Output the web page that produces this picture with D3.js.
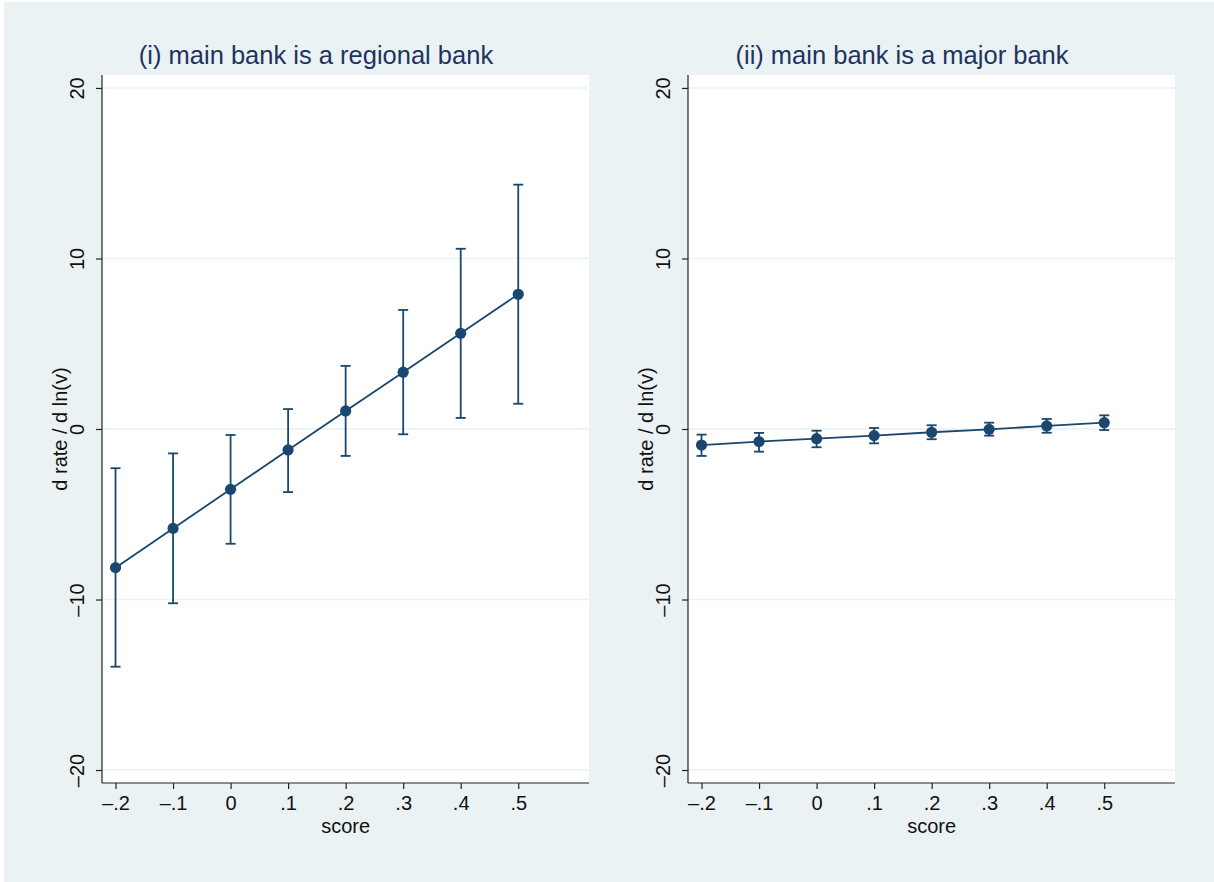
<!DOCTYPE html>
<html>
<head>
<meta charset="utf-8">
<script src="https://cdn.jsdelivr.net/npm/d3@7"></script>
<style>
  body { margin: 0; background: #fff; }
  svg { display: block; font-family: "Liberation Sans", Arial, Helvetica, sans-serif; }
</style>
</head>
<body>
<div class="chart"></div>
<script>
// x positions (score)
let scores = [-0.2, -0.1, 0, 0.1, 0.2, 0.3, 0.4, 0.5]
let xTicks = [-0.2, -0.1, 0, 0.1, 0.2, 0.3, 0.4, 0.5]
let xTickLabels = ["–.2", "–.1", "0", ".1", ".2", ".3", ".4", ".5"]
let yTicks = [-20, -10, 0, 10, 20]
let yTickLabels = ["–20", "–10", "0", "10", "20"]

// (i) regional bank
let regionalEst = [-8.13, -5.83, -3.54, -1.23, 1.06, 3.33, 5.61, 7.90]
let regionalLo = [-13.94, -10.22, -6.73, -3.70, -1.58, -0.31, 0.65, 1.48]
let regionalHi = [-2.30, -1.43, -0.35, 1.17, 3.70, 6.98, 10.57, 14.33]

// (ii) major bank
let majorEst = [-0.94, -0.74, -0.57, -0.39, -0.19, -0.02, 0.18, 0.37]
let majorLo = [-1.58, -1.33, -1.07, -0.84, -0.60, -0.39, -0.22, -0.06]
let majorHi = [-0.33, -0.23, -0.10, 0.06, 0.22, 0.37, 0.59, 0.80]

let titles = ["(i) main bank is a regional bank", "(ii) main bank is a major bank"]

let outerWidth = 1214
let outerHeight = 882
let plotW = 487
let plotH = 708
let panelLeft = [102, 688]
let plotTop = 75
let titleX = [316, 902]

let navy = "#1a476f"

let svg = d3.select(".chart")
    .append("svg")
    .attr("width", outerWidth)
    .attr("height", outerHeight)

// background
svg.append("rect")
    .attr("x", 4)
    .attr("y", 2)
    .attr("width", outerWidth - 4)
    .attr("height", outerHeight - 2)
    .attr("fill", "#eaf2f3")

let xScale = d3.scaleLinear()
    .domain([-0.2235, 0.623])
    .range([0, plotW])

let yScale = d3.scaleLinear()
    .domain([-20.76, 20.76])
    .range([plotH, 0])

let panels = [
    {est: regionalEst, lo: regionalLo, hi: regionalHi},
    {est: majorEst, lo: majorLo, hi: majorHi}
]

panels.forEach((p, k) => {
    let data = scores.map((s, i) => ({x: s, est: p.est[i], lo: p.lo[i], hi: p.hi[i]}))

    let g = svg.append("g")
        .attr("transform", `translate(${panelLeft[k]}, ${plotTop})`)

    // plot region
    g.append("rect")
        .attr("width", plotW)
        .attr("height", plotH)
        .attr("fill", "#fff")

    // gridlines
    g.selectAll(".grid")
        .data(yTicks)
        .enter()
        .append("line")
        .attr("x1", 0)
        .attr("x2", plotW)
        .attr("y1", d => yScale(d))
        .attr("y2", d => yScale(d))
        .attr("stroke", "#eaf2f3")
        .attr("stroke-width", 1.5)

    // axes
    let xAxis = d3.axisBottom(xScale)
        .tickValues(xTicks)
        .tickFormat((d, i) => xTickLabels[i])
        .tickSize(6)
        .tickPadding(7)

    let yAxis = d3.axisLeft(yScale)
        .tickValues(yTicks)
        .tickFormat((d, i) => yTickLabels[i])
        .tickSize(6)

    let gx = g.append("g")
        .attr("transform", `translate(0, ${plotH})`)
        .call(xAxis)
    gx.select(".domain").attr("d", `M0,0H${plotW}`)

    let gy = g.append("g")
        .call(yAxis)
    gy.select(".domain").attr("d", `M0,0V${plotH}`)

    gy.selectAll(".tick text")
        .attr("x", 0)
        .attr("y", -18)
        .attr("dy", 0)
        .attr("transform", "rotate(-90)")
        .attr("text-anchor", "middle")

    g.selectAll(".domain, .tick line")
        .attr("stroke", "#222")
        .attr("stroke-width", 1.2)
    g.selectAll(".tick text")
        .attr("font-size", 20)
        .attr("font-family", "Liberation Sans, Arial, sans-serif")
        .attr("fill", "#111")

    // axis titles
    g.append("text")
        .attr("x", xScale(0.2))
        .attr("y", 833 - plotTop)
        .attr("text-anchor", "middle")
        .attr("font-size", 20)
        .attr("fill", "#111")
        .text("score")

    g.append("text")
        .attr("transform", `translate(-35, ${plotH / 2}) rotate(-90)`)
        .attr("text-anchor", "middle")
        .attr("font-size", 20)
        .attr("fill", "#111")
        .text("d rate / d ln(v)")

    // error bars
    let bars = g.selectAll(".bar")
        .data(data)
        .enter()
        .append("g")
        .attr("stroke", navy)
        .attr("stroke-width", 1.8)

    bars.append("line")
        .attr("x1", d => xScale(d.x))
        .attr("x2", d => xScale(d.x))
        .attr("y1", d => yScale(d.lo))
        .attr("y2", d => yScale(d.hi))
    bars.append("line")
        .attr("x1", d => xScale(d.x) - 5)
        .attr("x2", d => xScale(d.x) + 5)
        .attr("y1", d => yScale(d.lo))
        .attr("y2", d => yScale(d.lo))
    bars.append("line")
        .attr("x1", d => xScale(d.x) - 5)
        .attr("x2", d => xScale(d.x) + 5)
        .attr("y1", d => yScale(d.hi))
        .attr("y2", d => yScale(d.hi))

    // connecting line
    let line = d3.line()
        .x(d => xScale(d.x))
        .y(d => yScale(d.est))

    g.append("path")
        .datum(data)
        .attr("d", line)
        .attr("fill", "none")
        .attr("stroke", navy)
        .attr("stroke-width", 1.8)

    // points
    g.selectAll("circle")
        .data(data)
        .enter()
        .append("circle")
        .attr("cx", d => xScale(d.x))
        .attr("cy", d => yScale(d.est))
        .attr("r", 5.6)
        .attr("fill", navy)

    // title
    svg.append("text")
        .attr("x", titleX[k])
        .attr("y", 64)
        .attr("text-anchor", "middle")
        .attr("font-size", 25.5)
        .attr("fill", "#1e335f")
        .text(titles[k])
})
</script>
</body>
</html>
